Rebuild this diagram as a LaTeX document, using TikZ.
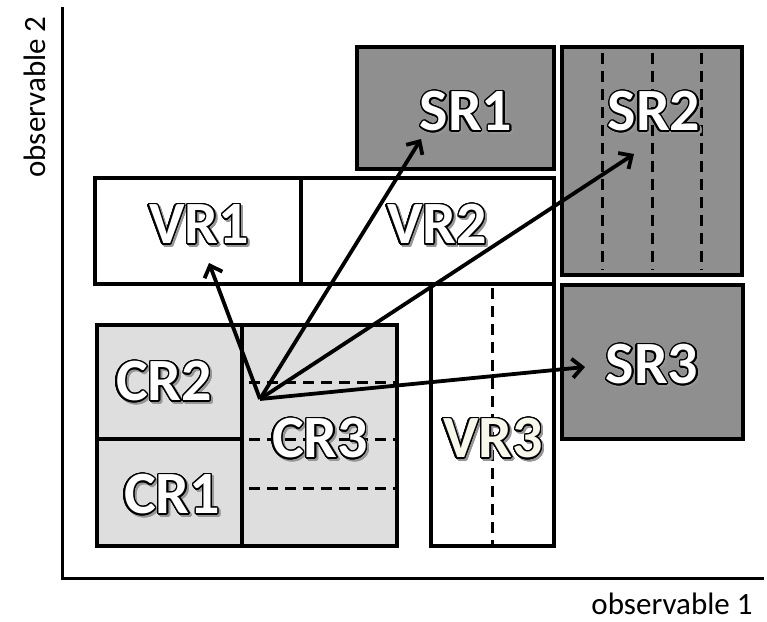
\documentclass[tikz,border=0pt]{standalone}
\usepackage{fontspec}
\setmainfont{Carlito}
\usepackage{contour}
\usetikzlibrary{arrows.meta}
\contourlength{1.4pt}
\contournumber{24}
\definecolor{sigfill}{RGB}{143,143,143}
\definecolor{ctlfill}{RGB}{222,222,222}
\definecolor{shadowgray}{RGB}{150,150,150}
\definecolor{cream}{RGB}{248,247,236}
\newcommand\reglabel[2]{\makebox[0pt][l]{\hspace*{2pt}\raisebox{-2pt}{\textcolor{shadowgray}{\contour{shadowgray}{#2}}}}\textcolor{#1}{\contour{black}{#2}}}
\begin{document}
\begin{tikzpicture}[x=1pt,y=-1pt,
  region/.style={draw=black, line width=3.2pt, rectangle, inner sep=0pt, outer sep=0pt},
  sigbox/.style={region, fill=sigfill},
  ctlbox/.style={region, fill=ctlfill},
  valbox/.style={region, fill=white},
  part/.style={line width=3pt, dash pattern=on 11pt off 7pt},
  arr/.style={line width=3.8pt, -{Straight Barb[length=10pt,width=19pt]}},
  axis/.style={line width=3pt},
  lbl/.style={font=\fontsize{60}{60}\bfseries\selectfont, inner sep=0pt},
  axlbl/.style={font=\fontsize{31}{31}\selectfont, inner sep=0pt, text depth=0pt}
]
\useasboundingbox (0,0) rectangle (767,621);
% axes
\coordinate (ytop) at (62,7);
\coordinate (orig) at (62,578);
\coordinate (xend) at (764,578);
\draw[axis] (ytop) -- (orig) -- (xend);
\node[axlbl, anchor=base] (xl) at (672,614) {observable 1};
\node[axlbl, anchor=base, rotate=90] (yl) at (45,97) {observable 2};
% regions
\node[sigbox, minimum width=197pt, minimum height=122pt] (SR1) at (455.5,108) {};
\node[sigbox, minimum width=180pt, minimum height=228pt] (SR2) at (652,161) {};
\node[sigbox, minimum width=181pt, minimum height=154pt] (SR3) at (652.5,362) {};
\node[valbox, minimum width=206pt, minimum height=106pt] (VR1) at (198,231) {};
\node[valbox, minimum width=253pt, minimum height=106pt] (VR2) at (427.5,231) {};
\node[valbox, minimum width=123pt, minimum height=262pt] (VR3) at (492.5,415) {};
\node[ctlbox, minimum width=145pt, minimum height=114pt] (CR2) at (169.5,382) {};
\node[ctlbox, minimum width=145pt, minimum height=107pt] (CR1) at (169.5,492.5) {};
\node[ctlbox, minimum width=155pt, minimum height=221pt] (CR3) at (319.5,435.5) {};
% partitions
\draw[part] (602,53) -- (602,270);
\draw[part] (652,53) -- (652,270);
\draw[part] (701,53) -- (701,270);
\draw[part] (492,288) -- (492,546);
\draw[part] (249,382) -- (397,382);
\draw[part] (249,439) -- (397,439);
\draw[part] (249,488) -- (397,488);
% arrows
\coordinate (src) at (260,399);
\coordinate (tVR1) at (209,263);
\coordinate (tSR1) at (421,139);
\coordinate (tSR2) at (634,154);
\coordinate (tSR3) at (585,367);
\draw[arr] (src) -- (tVR1);
\draw[arr] (src) -- (tSR1);
\draw[arr] (src) -- (tSR2);
\draw[arr] (src) -- (tSR3);
% labels
\node[lbl] (SR1l) at (466,113) {\reglabel{white}{SR1}};
\node[lbl] (SR2l) at (654,113) {\reglabel{white}{SR2}};
\node[lbl] (SR3l) at (652,366) {\reglabel{white}{SR3}};
\node[lbl] (VR1l) at (199,226) {\reglabel{white}{VR1}};
\node[lbl] (VR2l) at (437,226) {\reglabel{white}{VR2}};
\node[lbl] (VR3l) at (493,440) {\reglabel{cream}{VR3}};
\node[lbl] (CR2l) at (164,383) {\reglabel{white}{CR2}};
\node[lbl] (CR3l) at (320,440) {\reglabel{white}{CR3}};
\node[lbl] (CR1l) at (172,496) {\reglabel{white}{CR1}};
\end{tikzpicture}
\end{document}
